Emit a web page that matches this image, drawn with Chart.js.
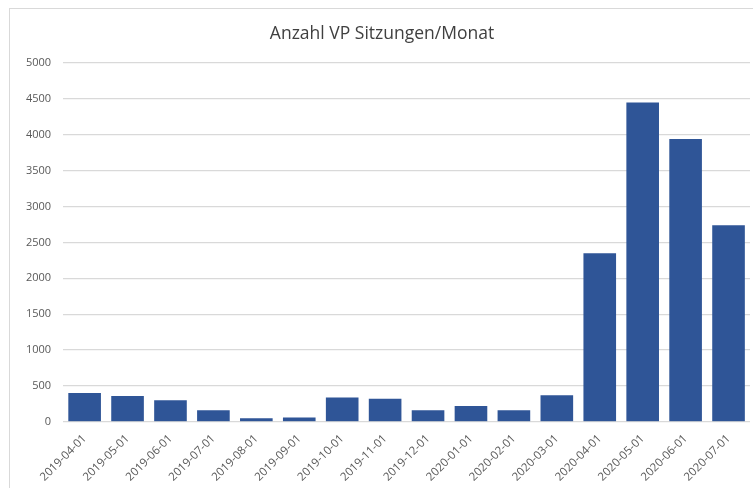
<!DOCTYPE html>
<html>
<head>
<meta charset="utf-8">
<script src="https://cdn.jsdelivr.net/npm/chart.js@4/dist/chart.umd.min.js"></script>
<style>
  html, body { margin: 0; padding: 0; background: #fff; }
  #wrap { position: relative; width: 753px; height: 488px; overflow: hidden; }
  #frame { position: absolute; left: 9px; top: 8px; width: 760px; height: 500px; border: 1px solid #d9d9d9; }
  canvas { position: absolute; left: 0; top: 0; }
</style>
</head>
<body>
<div id="wrap">
  <div id="frame"></div>
  <canvas id="chart" width="753" height="488"></canvas>
</div>
<script>
// ── Daten ──────────────────────────────────────────────────────
const months = [
  "2019-04-01","2019-05-01","2019-06-01","2019-07-01","2019-08-01","2019-09-01",
  "2019-10-01","2019-11-01","2019-12-01","2020-01-01","2020-02-01","2020-03-01",
  "2020-04-01","2020-05-01","2020-06-01","2020-07-01"
];
const sessions = [400, 360, 300, 160, 50, 60, 340, 320, 160, 220, 160, 370, 2350, 4450, 3940, 2740];
const yTicks = [0, 500, 1000, 1500, 2000, 2500, 3000, 3500, 4000, 4500, 5000];

const FONT = "'Open Sans', 'DejaVu Sans', sans-serif";

new Chart(document.getElementById("chart"), {
  type: "bar",
  data: {
    labels: months,
    datasets: [{
      label: "Anzahl",
      data: sessions,
      backgroundColor: "#2f5597",
      barPercentage: 0.76,
      categoryPercentage: 1.0,
    }],
  },
  options: {
    responsive: false,
    animation: false,
    layout: { padding: { left: 14, right: 3, top: 0, bottom: 2 } },
    plugins: {
      legend: { display: false },
      tooltip: { enabled: false },
      title: {
        display: true,
        text: "Anzahl VP Sitzungen/Monat",
        color: "#404040",
        font: { family: FONT, size: 17.5, weight: "normal" },
        padding: { top: 24, bottom: 18 },
      },
    },
    scales: {
      x: {
        grid: { display: false },
        border: { display: false },
        ticks: {
          color: "#595959",
          font: { family: FONT, size: 11.5 },
          maxRotation: 45, minRotation: 45,
          padding: 2,
          autoSkip: false,
        },
      },
      y: {
        min: yTicks[0], max: yTicks[yTicks.length - 1],
        afterBuildTicks: axis => { axis.ticks = yTicks.map(v => ({ value: v })); },
        grid: { color: "#d9d9d9", drawTicks: false, lineWidth: 1.2 },
        border: { display: false },
        ticks: {
          color: "#595959",
          font: { family: FONT, size: 11 },
          padding: 12,
          callback: v => String(v),
        },
      },
    },
  },
});
</script>
</body>
</html>
